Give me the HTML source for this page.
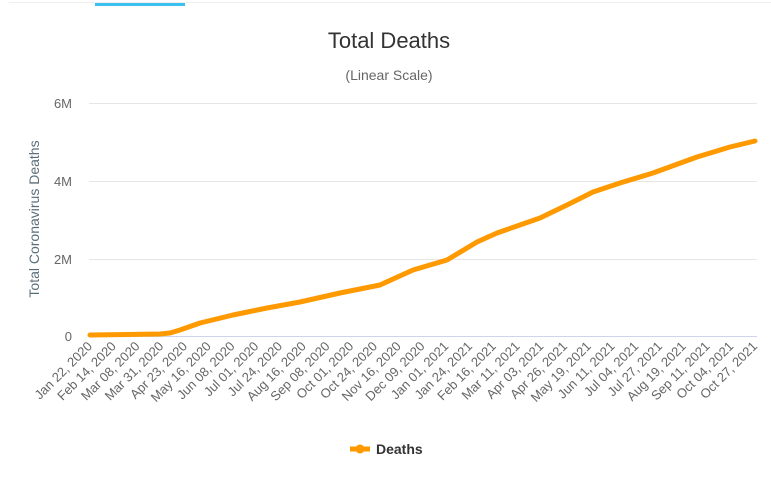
<!DOCTYPE html>
<html><head><meta charset="utf-8"><style>
html,body{margin:0;padding:0;background:#fff;}
svg{display:block;font-family:"Liberation Sans","DejaVu Sans",sans-serif;}
</style></head><body>
<svg width="771" height="492" viewBox="0 0 771 492" xmlns="http://www.w3.org/2000/svg">
<rect width="771" height="492" fill="#fff"/>
<line x1="9" y1="2.5" x2="771" y2="2.5" stroke="#eee" stroke-width="1"/>
<rect x="95" y="3" width="90" height="3" fill="#3cc0f0"/>
<text x="389" y="48" text-anchor="middle" font-size="22" fill="#333">Total Deaths</text>
<text x="389" y="80" text-anchor="middle" font-size="14" fill="#666">(Linear Scale)</text>
<g stroke="#e6e6e6" stroke-width="1">
<line x1="89" y1="103.5" x2="757" y2="103.5"/>
<line x1="89" y1="181.5" x2="757" y2="181.5"/>
<line x1="89" y1="259.5" x2="757" y2="259.5"/>
</g>
<line x1="89" y1="336.5" x2="757" y2="336.5" stroke="#ccd6eb" stroke-width="1"/>
<g font-size="13" fill="#666" text-anchor="end">
<text x="72" y="108">6M</text>
<text x="72" y="186">4M</text>
<text x="72" y="264">2M</text>
<text x="72" y="341">0</text>
</g>
<text transform="translate(39,219) rotate(-90)" text-anchor="middle" font-size="14" fill="#5a6e7a">Total Coronavirus Deaths</text>
<polyline fill="none" stroke="#ff9900" stroke-width="5" stroke-linejoin="round" stroke-linecap="round"
points="90,335 160,334 170,333 180,330 200,323 233,315 267,308 300,302 340,293 380,285 413,270 447,260 477,242 497,233 540,218 567,205 593,192 620,183 653,173 697,157 730,147 755,141"/>
<line x1="350" y1="449" x2="370" y2="449" stroke="#ff9900" stroke-width="5"/>
<circle cx="360" cy="449" r="4.5" fill="#ff9900"/>
<text x="376" y="454" font-size="14" font-weight="bold" fill="#333">Deaths</text>
<g font-size="13" fill="#666" text-anchor="end">
<text transform="translate(93,347) rotate(-45)">Jan 22, 2020</text>
<text transform="translate(116.8,347) rotate(-45)">Feb 14, 2020</text>
<text transform="translate(140.5,347) rotate(-45)">Mar 08, 2020</text>
<text transform="translate(164.3,347) rotate(-45)">Mar 31, 2020</text>
<text transform="translate(188,347) rotate(-45)">Apr 23, 2020</text>
<text transform="translate(211.8,347) rotate(-45)">May 16, 2020</text>
<text transform="translate(235.5,347) rotate(-45)">Jun 08, 2020</text>
<text transform="translate(259.3,347) rotate(-45)">Jul 01, 2020</text>
<text transform="translate(283,347) rotate(-45)">Jul 24, 2020</text>
<text transform="translate(306.8,347) rotate(-45)">Aug 16, 2020</text>
<text transform="translate(330.5,347) rotate(-45)">Sep 08, 2020</text>
<text transform="translate(354.3,347) rotate(-45)">Oct 01, 2020</text>
<text transform="translate(378,347) rotate(-45)">Oct 24, 2020</text>
<text transform="translate(401.8,347) rotate(-45)">Nov 16, 2020</text>
<text transform="translate(425.5,347) rotate(-45)">Dec 09, 2020</text>
<text transform="translate(449.3,347) rotate(-45)">Jan 01, 2021</text>
<text transform="translate(473,347) rotate(-45)">Jan 24, 2021</text>
<text transform="translate(496.8,347) rotate(-45)">Feb 16, 2021</text>
<text transform="translate(520.5,347) rotate(-45)">Mar 11, 2021</text>
<text transform="translate(544.3,347) rotate(-45)">Apr 03, 2021</text>
<text transform="translate(568,347) rotate(-45)">Apr 26, 2021</text>
<text transform="translate(591.8,347) rotate(-45)">May 19, 2021</text>
<text transform="translate(615.5,347) rotate(-45)">Jun 11, 2021</text>
<text transform="translate(639.3,347) rotate(-45)">Jul 04, 2021</text>
<text transform="translate(663,347) rotate(-45)">Jul 27, 2021</text>
<text transform="translate(686.8,347) rotate(-45)">Aug 19, 2021</text>
<text transform="translate(710.5,347) rotate(-45)">Sep 11, 2021</text>
<text transform="translate(734.3,347) rotate(-45)">Oct 04, 2021</text>
<text transform="translate(758,347) rotate(-45)">Oct 27, 2021</text>
</g>
</svg>
</body></html>
